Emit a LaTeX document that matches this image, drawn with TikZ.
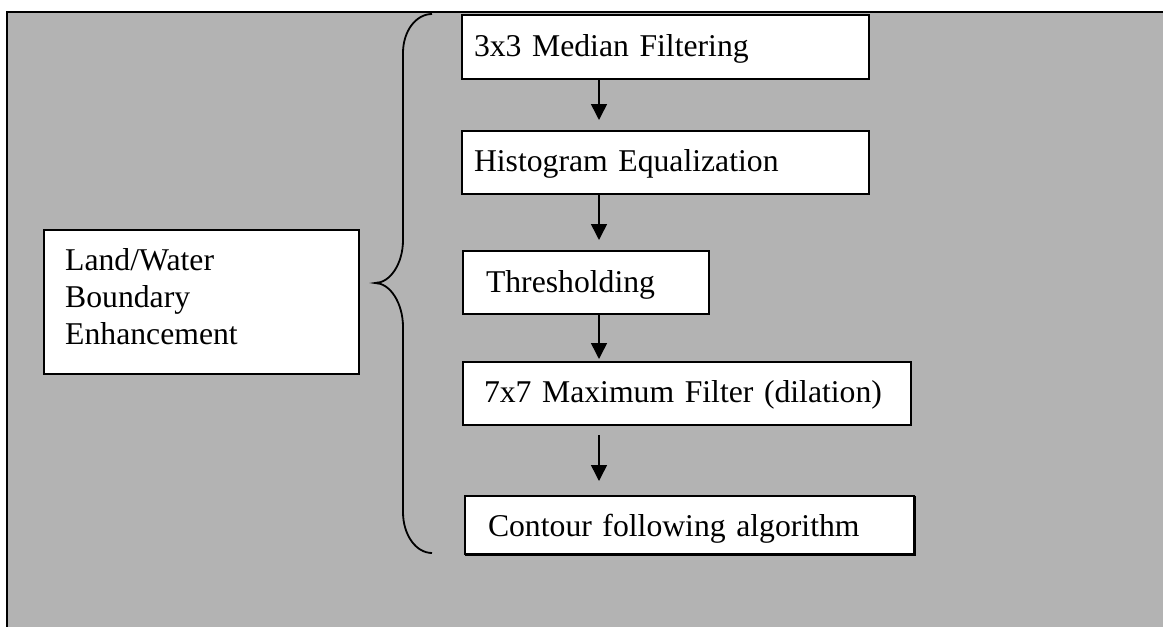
\documentclass[tikz,border=0pt]{standalone}
\usepackage{fontspec}
\setmainfont{Liberation Serif}
\usetikzlibrary{arrows.meta}
\definecolor{panelgray}{RGB}{179,179,179}
\begin{document}
\begin{tikzpicture}[x=1pt,y=-1pt,
  txt/.style={font=\fontsize{31.7}{37}\selectfont},
  stepbox/.style={txt, draw=black, line width=2pt, fill=white, rectangle,
    anchor=north west, inner ysep=0pt, align=left},
  flow/.style={draw=black, line width=1.5pt, -{Triangle[width=16pt,length=16pt]}},
  brace/.style={draw=black, line width=1.8pt}]
  \useasboundingbox (0,0) rectangle (1163,627);
  % page and grey panel with its frame
  \fill[white] (0,0) rectangle (1163,627);
  \fill[panelgray] (8,12) rectangle (1163,627);
  \draw[line width=2.2pt] (7,627) -- (7,12) -- (1163,12);

  % processing steps
  \node[stepbox, inner xsep=12pt, text width=383pt, text height=41pt, text depth=23pt]
    (b1) at (461,14) {3x3 Median Filtering};
  \node[stepbox, inner xsep=12pt, text width=383pt, text height=40pt, text depth=23pt]
    (b2) at (461,130) {Histogram Equalization};
  \node[stepbox, inner xsep=23pt, text width=200pt, text height=41pt, text depth=22pt]
    (b3) at (462,250) {Thresholding};
  \node[stepbox, inner xsep=21pt, text width=406pt, text height=40pt, text depth=23pt]
    (b4) at (462,361) {7x7 Maximum Filter (dilation)};
  \node[stepbox, inner xsep=23pt, text width=403pt, text height=40pt, text depth=18pt]
    (b5) at (464,495) {Contour following algorithm};
  % thin drop shadow along the right and bottom of the last step
  \draw[line width=1.5pt] ([xshift=0.4pt,yshift=-1pt]b5.north east)
    -- ([xshift=0.4pt,yshift=-0.4pt]b5.south east)
    -- ([xshift=1pt,yshift=-0.4pt]b5.south west);

  % stage label
  \node[draw=black, line width=2pt, fill=white, rectangle, anchor=north west,
    minimum width=315pt, minimum height=144pt, inner sep=0pt] (enh) at (43,229) {};
  \node[txt, anchor=north west, inner sep=0pt, align=left] (enhtext) at (65,248)
    {Land/Water\\Boundary\\Enhancement};

  % flow arrows
  \coordinate (col) at (599,0);
  \draw[flow] (b1.south -| col) -- ([yshift=10pt]b2.north -| col);
  \draw[flow] (b2.south -| col) -- ([yshift=10pt]b3.north -| col);
  \draw[flow] (b3.south -| col) -- ([yshift=2pt]b4.north -| col);
  \draw[flow] ([yshift=-9pt]b4.south -| col) -- ([yshift=14pt]b5.north -| col);

  % curly brace grouping the steps
  \draw[brace] (432,14) .. controls (416,14) and (403,31) .. (403,53)
    -- (403,240) .. controls (403,264) and (390,283) .. (375,283)
    .. controls (390,283) and (403,303) .. (403,327)
    -- (403,512) .. controls (403,535) and (416,553) .. (432,553);
\end{tikzpicture}
\end{document}
